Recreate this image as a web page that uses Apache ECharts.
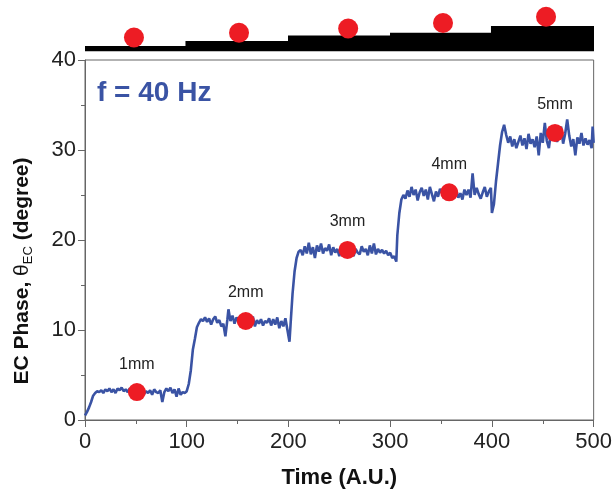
<!DOCTYPE html>
<html>
<head>
<meta charset="utf-8">
<script src="https://cdn.jsdelivr.net/npm/echarts@6/dist/echarts.min.js"></script>
<style>
html,body{margin:0;padding:0;background:#fff;}
#chart{width:615px;height:494px;}
</style>
</head>
<body>
<div id="chart"></div>
<script>
// ---- Data ----
const timeAU = [
  0,2,4,6,8,10,12,14,16,18,20,22,24,26,28,30,32,34,36,38,40,42,44,46,48,50,52,54,56,58,60,62,64,66,68,70,72,74,76,78,80,82,84,86,88,90,92,94,96,98,100,
  102,104,106,108,110,112,114,116,118,120,122,124,126,128,130,132,134,136,138,140,141,143,145,147,149,151,153,155,157,159,161,163,165,167,169,171,173,175,177,179,181,183,185,187,189,191,193,195,197,199,201,202,204,206,208,210,
  212,214,216,218,220,222,224,226,228,230,232,234,236,238,240,242,244,246,248,250,252,254,256,258,260,262,264,266,268,270,272,274,276,278,280,282,284,286,288,290,292,294,296,298,300,302,304,306,307,309,311,313,
  315,317,319,321,323,325,327,329,331,333,335,337,339,341,343,345,347,349,351,353,355,357,359,361,363,365,367,369,371,373,375,377,379,381,383,385,387,389,391,393,395,397,399,400,402,404,406,408,410,412,
  414,416,418,420,422,424,426,428,430,432,434,436,438,440,442,444,446,448,450,452,454,456,458,460,462,464,466,468,470,472,474,476,478,480,482,484,486,488,490,492,494,496,498,499,500
];
const phaseDeg = [
  0.5,0.9,1.4,2.0,2.7,3.0,3.2,3.1,3.3,3.0,3.4,3.2,3.5,3.1,3.4,3.0,3.5,3.3,3.6,3.2,3.4,3.1,3.5,3.3,3.1,3.2,3.0,3.3,3.1,2.9,3.2,3.0,3.3,2.8,3.4,3.1,3.0,3.3,2.0,3.1,3.5,3.2,3.6,3.0,3.4,2.6,3.5,2.8,3.1,3.0,3.2,
  4.0,5.5,7.8,9.0,10.3,10.8,11.2,11.0,11.4,10.9,11.3,10.6,11.2,11.5,10.8,11.1,10.4,10.7,9.3,11.2,12.3,11.0,11.6,10.7,11.4,10.9,11.3,11.0,11.2,10.9,11.3,10.6,11.5,10.4,11.1,10.7,11.2,10.5,11.0,10.8,11.3,10.5,11.2,10.6,11.4,10.2,11.0,10.4,11.3,10.0,8.7,10.5,14.0,16.5,18.0,18.7,
  18.9,18.3,19.3,18.5,19.7,18.4,19.2,18.0,19.4,18.7,19.6,18.5,19.1,18.8,19.5,18.3,19.2,18.6,19.0,18.2,19.3,18.9,19.0,18.8,18.5,19.1,18.2,19.0,18.6,18.4,19.3,18.7,19.0,18.3,19.4,18.5,19.6,18.4,19.0,18.6,18.9,18.5,18.8,18.3,18.6,18.0,18.2,17.6,20.5,23.0,24.5,25.0,
  24.6,25.5,24.8,25.9,25.0,25.6,24.4,25.3,25.8,24.9,25.6,24.5,25.9,25.1,24.3,25.4,24.8,25.7,25.2,24.6,25.4,25.0,25.3,25.1,24.8,25.5,24.7,25.2,24.5,25.6,25.0,25.6,24.7,27.4,25.0,25.8,25.1,24.6,25.3,25.9,24.8,25.4,25.8,23.0,24.0,26.5,28.5,30.5,32.0,32.8,
  31.7,30.8,31.5,30.4,31.2,30.2,30.9,31.6,30.5,31.3,30.1,31.8,30.7,31.2,30.3,31.5,29.4,31.9,30.8,33.0,31.0,30.2,32.0,31.3,31.8,30.9,31.5,32.6,30.7,31.8,33.4,31.6,30.4,31.2,29.4,31.4,30.7,31.9,30.5,31.3,30.6,31.1,30.2,32.6,30.8
];
const dotTime = [51, 158, 258, 358, 462];
const dotPhase = [3.1, 11.0, 18.9, 25.3, 31.9];
const dotLabels = ['1mm', '2mm', '3mm', '4mm', '5mm'];
// top schematic: staircase (thickness) and red markers, in the panel's own units
const stepTime = [0, 98.5, 199, 299, 398, 499];
const stepHeight = [5.5, 10.5, 16, 18.8, 25.5, 25.5];
const topDotTime = [48, 151, 258, 351, 452];
const topDotHeight = [14, 18.8, 23, 28.5, 34.8];
const annotation = 'f = 40 Hz';

// ---- Build chart ----
const FONT = '"Liberation Sans", Arial, Helvetica, sans-serif';
const BLUE = '#3a53a4';
const RED = '#ed1c24';
const AX = '#666';

const lineData = timeAU.map((t, i) => [t, phaseDeg[i]]);
const dotData = dotTime.map((t, i) => ({ value: [t, dotPhase[i]], label: { formatter: dotLabels[i] } }));
const stepData = stepTime.map((t, i) => [t, stepHeight[i]]);
const topDots = topDotTime.map((t, i) => [t, topDotHeight[i]]);

const chart = echarts.init(document.getElementById('chart'), null, { renderer: 'canvas' });
chart.setOption({
  animation: false,
  backgroundColor: '#fff',
  textStyle: { fontFamily: FONT },
  grid: [
    { left: 85, right: 20, top: 60, bottom: 74, show: true, borderColor: AX, borderWidth: 1, backgroundColor: 'transparent' },
    { left: 85, right: 20, top: 0, height: 51.5 }
  ],
  xAxis: [
    {
      type: 'value', gridIndex: 0, min: 0, max: 500, interval: 100,
      name: 'Time (A.U.)', nameLocation: 'middle', nameGap: 47,
      nameTextStyle: { fontSize: 22, fontWeight: 'bold', color: '#111', fontFamily: FONT },
      axisLine: { show: true, lineStyle: { color: AX, width: 1 } },
      axisTick: { show: true, length: 7, lineStyle: { color: AX, width: 1 } },
      minorTick: { show: true, splitNumber: 2, length: 4, lineStyle: { color: AX, width: 1 } },
      splitLine: { show: false },
      axisLabel: { fontSize: 22, color: '#222', margin: 11, fontFamily: FONT }
    },
    { type: 'value', gridIndex: 1, min: 0, max: 500, show: false }
  ],
  yAxis: [
    {
      type: 'value', gridIndex: 0, min: 0, max: 40, interval: 10,
      name: '{b|EC Phase, }{t|θ}{s|EC}{b| (degree)}',
      nameLocation: 'middle', nameGap: 50, nameRotate: 90,
      nameTextStyle: {
        color: '#111', padding: [0, 62, 0, 0],
        rich: {
          b: { fontSize: 21, fontWeight: 'bold', color: '#111', fontFamily: FONT },
          t: { fontSize: 21, color: '#111', fontFamily: FONT },
          s: { fontSize: 13, color: '#111', fontFamily: FONT, padding: [12, 0, 0, 0] }
        }
      },
      axisLine: { show: true, lineStyle: { color: AX, width: 1 } },
      axisTick: { show: true, length: 7, lineStyle: { color: AX, width: 1 } },
      minorTick: { show: true, splitNumber: 2, length: 4, lineStyle: { color: AX, width: 1 } },
      splitLine: { show: false },
      axisLabel: { fontSize: 22, color: '#222', margin: 9, fontFamily: FONT }
    },
    { type: 'value', gridIndex: 1, min: 0, max: 51.5, show: false }
  ],
  series: [
    {
      type: 'line', xAxisIndex: 1, yAxisIndex: 1, step: 'end', data: stepData,
      symbol: 'none', lineStyle: { width: 0, color: '#000' },
      areaStyle: { color: '#000', opacity: 1 }, z: 2
    },
    {
      type: 'scatter', xAxisIndex: 1, yAxisIndex: 1, data: topDots,
      symbolSize: 20, itemStyle: { color: RED, opacity: 1 }, z: 3
    },
    {
      type: 'line', xAxisIndex: 0, yAxisIndex: 0, data: lineData,
      symbol: 'none', lineStyle: { color: BLUE, width: 2.6 }, z: 2
    },
    {
      type: 'scatter', xAxisIndex: 0, yAxisIndex: 0, data: dotData,
      symbolSize: 18, itemStyle: { color: RED, opacity: 1 }, z: 4,
      label: { show: true, position: 'top', distance: 11, fontSize: 16, color: '#222', fontFamily: FONT }
    }
  ],
  graphic: [
    {
      type: 'text', left: 97, top: 79,
      style: { text: annotation, fontSize: 28, fontWeight: 'bold', fill: BLUE, fontFamily: FONT }
    }
  ]
});
</script>
</body>
</html>
